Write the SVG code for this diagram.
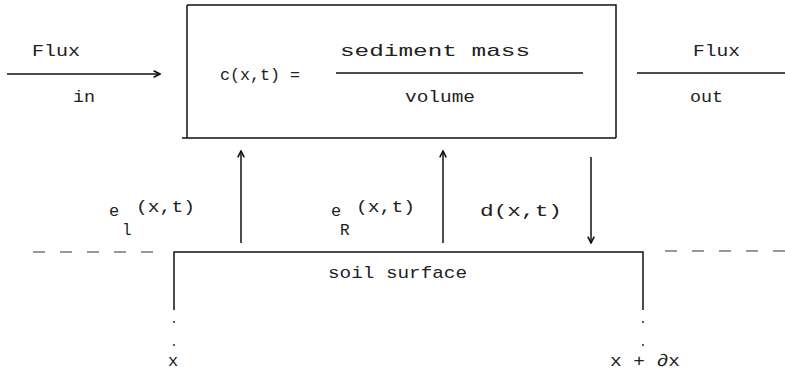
<svg xmlns="http://www.w3.org/2000/svg" width="785" height="374" viewBox="0 0 785 374">
<defs>
<style>
text{font-family:"Liberation Mono","DejaVu Sans Mono",monospace;font-size:17px;fill:#222}
.ln{stroke:#111;stroke-width:1.5;fill:none}
.ds{stroke:#333;stroke-width:1.2;stroke-dasharray:12,15;fill:none}
.sub{font-size:16px}
</style>
<marker id="ah" viewBox="0 0 10 10" refX="9" refY="5" markerWidth="8" markerHeight="8" markerUnits="userSpaceOnUse" orient="auto">
<path d="M1,1 L9,5 L1,9" fill="none" stroke="#111" stroke-width="2"/>
</marker>
</defs>
<rect width="785" height="374" fill="#fff"/>
<g id="box">
<path class="ln" d="M187,5 H616 V138 M187,5 V138 M182,138 H616"/>
<text x="220" y="80" textLength="80" lengthAdjust="spacingAndGlyphs">c(x,t) =</text>
<text x="340" y="56" textLength="190" lengthAdjust="spacingAndGlyphs">sediment mass</text>
<path class="ln" d="M336,73 H583"/>
<text x="405" y="102" textLength="70" lengthAdjust="spacingAndGlyphs">volume</text>
</g>
<g id="flux-in">
<text x="32" y="56" textLength="48" lengthAdjust="spacingAndGlyphs">Flux</text>
<text x="73" y="102" textLength="22" lengthAdjust="spacingAndGlyphs">in</text>
</g>
<g id="flux-out">
<text x="693" y="56" textLength="47" lengthAdjust="spacingAndGlyphs">Flux</text>
<text x="690" y="102" textLength="33" lengthAdjust="spacingAndGlyphs">out</text>
</g>
<g id="soil">
<path class="ln" d="M174,310 V252 H643 V310"/>
<text x="328" y="278" textLength="139" lengthAdjust="spacingAndGlyphs">soil surface</text>
<circle cx="174" cy="322" r="0.9" fill="#111"/>
<circle cx="174" cy="345" r="0.9" fill="#111"/>
<circle cx="643" cy="322" r="0.9" fill="#111"/>
<circle cx="643" cy="345" r="0.9" fill="#111"/>
<text x="168" y="366">x</text>
<text x="610" y="366" textLength="70" lengthAdjust="spacingAndGlyphs">x + ∂x</text>
</g>
<g id="labels">
<text x="109" y="216">e</text>
<text class="sub" x="122" y="235">l</text>
<text x="136" y="212" textLength="59" lengthAdjust="spacingAndGlyphs">(x,t)</text>
<text x="331" y="216">e</text>
<text class="sub" x="340" y="235">R</text>
<text x="356" y="212" textLength="59" lengthAdjust="spacingAndGlyphs">(x,t)</text>
<text x="480" y="216" textLength="82" lengthAdjust="spacingAndGlyphs">d(x,t)</text>
</g>
<g id="connectors">
<path class="ln" d="M7,74 H160" marker-end="url(#ah)"/>
<path class="ln" d="M637,73 H785"/>
<path class="ln" d="M241,243 V151" marker-end="url(#ah)"/>
<path class="ln" d="M443,243 V151" marker-end="url(#ah)"/>
<path class="ln" d="M591,157 V243" marker-end="url(#ah)"/>
<path class="ds" d="M33,252 H160"/>
<path class="ds" d="M665,251 H785"/>
</g>
</svg>
